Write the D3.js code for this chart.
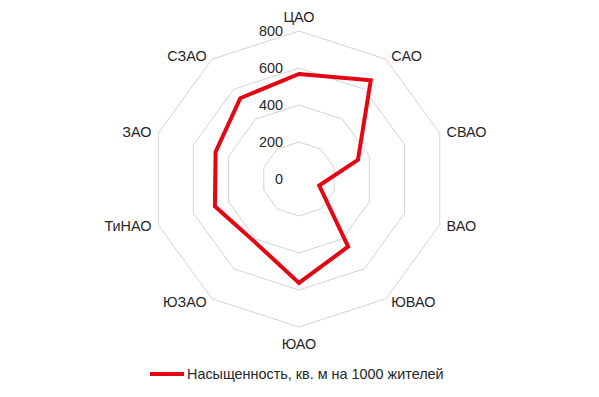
<!DOCTYPE html>
<html>
<head>
<meta charset="utf-8">
<script src="https://cdn.jsdelivr.net/npm/d3@7"></script>
<style>
	body { margin: 0; background: #fff; }
	text { font-family: "Liberation Sans", Arial, sans-serif; fill: #262626; }
</style>
</head>
<body>
<svg id="chart"></svg>
<script>
// Data.
var districts = ["ЦАО", "САО", "СВАО", "ВАО", "ЮВАО", "ЮАО", "ЮЗАО", "ТиНАО", "ЗАО", "СЗАО"];
var saturation = [568, 660, 335, 115, 452, 562, 415, 478, 474, 540];
var tickValues = [0, 200, 400, 600, 800];
var seriesName = "Насыщенность, кв. м на 1000 жителей";

// Definitions.
var width = 599;
var height = 397;
var cx = 299;
var cy = 179;
var radius = 148;
var fontSize = "14.4px";

var svg = d3.select("#chart")
	.attr("width", width)
	.attr("height", height);

var r = d3.scaleLinear().domain([0, 800]).range([0, radius]);
var angle = d3.scaleLinear().domain([0, districts.length]).range([0, 2 * Math.PI]);

var chart = svg.append("g").attr("transform", "translate(" + cx + "," + cy + ")");

function point(i, v)
{
	var a = angle(i);
	return [r(v) * Math.sin(a), -r(v) * Math.cos(a)];
}

// Grid rings.
tickValues.filter(function(t) { return t > 0; }).forEach(function(t)
{
	chart.append("path")
		.attr("d", d3.line()(districts.map(function(d, i) { return point(i, t); })) + "Z")
		.attr("fill", "none")
		.attr("stroke", "#d3d3d3")
		.attr("stroke-width", 1);
});

// Tick labels.
chart.selectAll(".tick-label")
	.data(tickValues)
	.enter()
	.append("text")
	.attr("x", -16)
	.attr("y", function(d) { return -r(d) + 5; })
	.attr("text-anchor", "end")
	.style("font-size", fontSize)
	.text(function(d) { return d; });

// Category labels.
var labelRadius = radius + 4;
chart.selectAll(".cat-label")
	.data(districts)
	.enter()
	.append("text")
	.attr("x", function(d, i)
	{
		var s = Math.sin(angle(i));
		var x = labelRadius * s;
		if (s > 0.1) return x + 3;
		if (s < -0.1) return x - 3;
		return x;
	})
	.attr("y", function(d, i)
	{
		var c = Math.cos(angle(i));
		var y = -labelRadius * c + 5;
		if (c > 0.95) return y - 10;
		if (c < -0.95) return y + 13;
		return y;
	})
	.attr("text-anchor", function(d, i)
	{
		var s = Math.sin(angle(i));
		if (s > 0.1) return "start";
		if (s < -0.1) return "end";
		return "middle";
	})
	.style("font-size", fontSize)
	.text(function(d) { return d; });

// Series line.
chart.append("path")
	.attr("d", d3.line()(saturation.map(function(v, i) { return point(i, v); })) + "Z")
	.attr("fill", "none")
	.attr("stroke", "#e30613")
	.attr("stroke-width", 4)
	.attr("stroke-linejoin", "miter");

// Legend.
var legend = svg.append("g").attr("transform", "translate(150,374)");
legend.append("line")
	.attr("x1", 0)
	.attr("x2", 34)
	.attr("y1", 0)
	.attr("y2", 0)
	.attr("stroke", "#e30613")
	.attr("stroke-width", 4);
legend.append("text")
	.attr("x", 37)
	.attr("y", 5)
	.style("font-size", fontSize)
	.text(seriesName);
</script>
</body>
</html>
